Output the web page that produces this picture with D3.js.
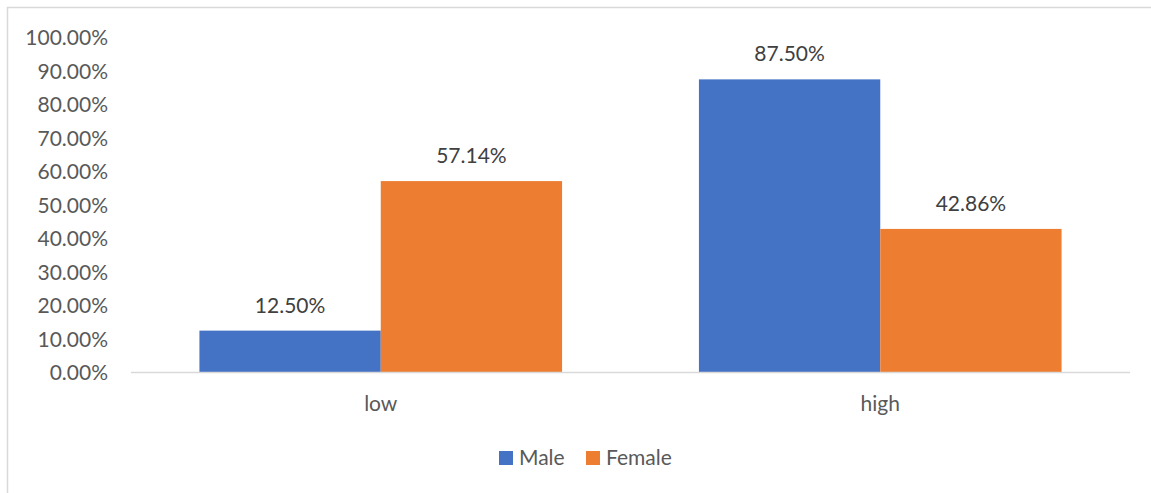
<!DOCTYPE html>
<html>
<head>
<meta charset="utf-8">
<script src="https://cdn.jsdelivr.net/npm/d3@7"></script>
<style>
  html, body { margin: 0; padding: 0; background: #fff; }
  svg { display: block; font-family: Lato, "Open Sans", sans-serif; }
</style>
</head>
<body>
<svg id="chart" width="1151" height="493"></svg>
<script>
// Share of each level by gender
const categories = ["low", "high"];
const seriesNames = ["Male", "Female"];
const maleValues = [12.50, 87.50];
const femaleValues = [57.14, 42.86];
const yTicks = [0, 10, 20, 30, 40, 50, 60, 70, 80, 90, 100];
const colors = ["#4472C4", "#ED7D31"];

const svg = d3.select("#chart");
const W = 1151, H = 493;

// chart area frame
svg.append("rect")
  .attr("x", 7.5).attr("y", 7.5)
  .attr("width", W + 10).attr("height", H + 10)
  .attr("fill", "#fff").attr("stroke", "#d9d9d9").attr("stroke-width", 1.5);

const plot = { left: 131, right: 1130, top: 37.5, bottom: 372.5 };

const x = d3.scaleBand()
  .domain(categories)
  .range([plot.left, plot.right])
  .paddingInner(0.274)
  .paddingOuter(0.137);

const xs = d3.scaleBand()
  .domain(seriesNames)
  .range([0, x.bandwidth()]);

const y = d3.scaleLinear().domain([0, 100]).range([plot.bottom, plot.top]);

const fmt = v => v.toFixed(2) + "%";

// y axis labels
const yAxis = d3.axisLeft(y).tickValues(yTicks).tickFormat(fmt).tickSize(0).tickPadding(0);
const yg = svg.append("g").attr("transform", `translate(${108},0)`).call(yAxis);
yg.select(".domain").remove();
yg.selectAll("text").attr("fill", "#595959").style("font-size", "21px")
  .style("font-family", "Lato, sans-serif").attr("dy", "0.35em");

// bars
const rows = categories.map((c, i) => ({ cat: c, vals: [maleValues[i], femaleValues[i]] }));
const groups = svg.append("g").selectAll("g").data(rows).join("g")
  .attr("transform", d => `translate(${x(d.cat)},0)`);

groups.selectAll("rect")
  .data(d => d.vals.map((v, j) => ({ name: seriesNames[j], v, j })))
  .join("rect")
  .attr("x", d => xs(d.name))
  .attr("width", xs.bandwidth())
  .attr("y", d => y(d.v))
  .attr("height", d => y(0) - y(d.v))
  .attr("fill", d => colors[d.j]);

groups.selectAll("text")
  .data(d => d.vals.map((v, j) => ({ name: seriesNames[j], v, j })))
  .join("text")
  .attr("x", d => xs(d.name) + xs.bandwidth() / 2)
  .attr("y", d => y(d.v) - 18)
  .attr("text-anchor", "middle")
  .attr("fill", "#404040")
  .style("font-size", "21px")
  .text(d => fmt(d.v));

// x axis baseline and category labels
svg.append("line")
  .attr("x1", plot.left).attr("x2", plot.right)
  .attr("y1", plot.bottom).attr("y2", plot.bottom)
  .attr("stroke", "#d9d9d9").attr("stroke-width", 1.5);

const xAxis = d3.axisBottom(x).tickSize(0).tickPadding(0);
const xg = svg.append("g").attr("transform", `translate(0,${plot.bottom})`).call(xAxis);
xg.select(".domain").remove();
xg.selectAll("text").attr("fill", "#595959").style("font-size", "21px")
  .style("font-family", "Lato, sans-serif").attr("dy", "1.83em");

// legend
const legend = svg.append("g");
const legendItems = [{ name: "Male", x: 499 }, { name: "Female", x: 586 }];
legendItems.forEach((it, i) => {
  legend.append("rect").attr("x", it.x).attr("y", 451).attr("width", 14).attr("height", 14)
    .attr("fill", colors[i]);
  legend.append("text").attr("x", it.x + 20).attr("y", 458).attr("dy", "0.35em")
    .attr("fill", "#595959").style("font-size", "21px").text(it.name);
});
</script>
</body>
</html>
